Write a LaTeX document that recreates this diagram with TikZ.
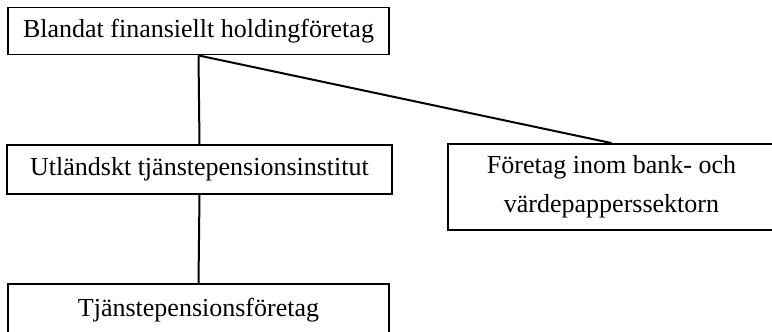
\documentclass[tikz,border=0pt]{standalone}
\usepackage{fontspec}
\setmainfont{Liberation Serif}
\begin{document}
\begin{tikzpicture}[x=0.75pt,y=-0.75pt,
  orgbox/.style={draw=black, line width=1.4pt, fill=white, inner sep=0pt,
    font=\fontsize{19.5}{29.5}\selectfont, align=center},
  link/.style={draw=black, line width=1.5pt}]
\useasboundingbox (0,0) rectangle (772,332);
\node[orgbox, minimum width=381*0.75pt, minimum height=47*0.75pt] (b1) at (198.5,31) {Blandat finansiellt holdingföretag};
\node[orgbox, minimum width=385*0.75pt, minimum height=49*0.75pt] (b2) at (199.5,169.5) {Utländskt tjänstepensionsinstitut};
\node[orgbox, minimum width=327*0.75pt, minimum height=86*0.75pt] (b3) at (611.5,187) {Företag inom bank- och\\värdepapperssektorn};
\node[orgbox, minimum width=381*0.75pt, minimum height=52*0.75pt] (b4) at (198.5,310) {Tjänstepensionsföretag};
\draw[link] (b1.south) -- (b2.north);
\draw[link] (b1.south) -- (b3.north);
\draw[link] (b2.south) -- (b4.north);
\end{tikzpicture}
\end{document}
